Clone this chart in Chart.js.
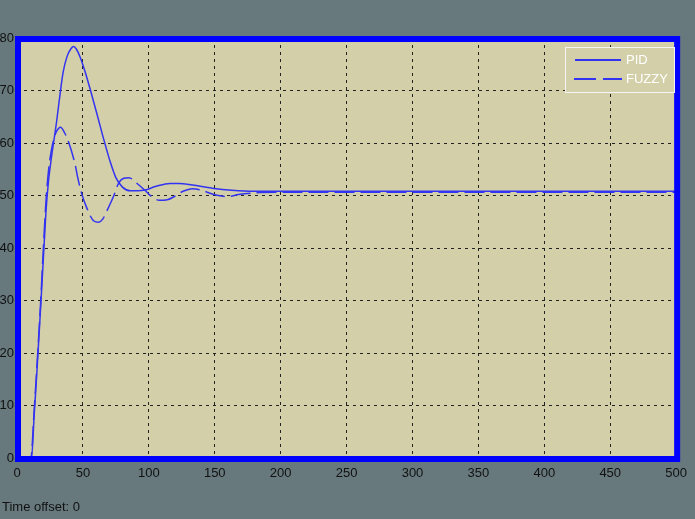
<!DOCTYPE html>
<html>
<head>
<meta charset="utf-8">
<script src="https://cdn.jsdelivr.net/npm/chart.js@4/dist/chart.umd.min.js"></script>
<style>
  html, body { margin: 0; padding: 0; background: #67797d; }
  canvas { display: block; }
</style>
</head>
<body>
<canvas id="scope" width="695" height="519"></canvas>
<script>
// time axis ticks
const xTicks = [0, 50, 100, 150, 200, 250, 300, 350, 400, 450, 500];
const yTicks = [0, 10, 20, 30, 40, 50, 60, 70, 80];

// PID response
const pidTime = [0, 11, 13, 15, 18, 20, 22, 24, 26, 28, 30, 32, 35, 38, 41, 43, 45, 48, 52, 56, 61, 66, 71, 75, 80, 86, 96, 105, 116, 123, 133, 148, 163, 180, 500];
const pidValue = [0, 0, 8, 16, 29, 38, 47, 53, 57, 60.5, 64, 68, 73.5, 76.5, 78, 78.4, 77.9, 76.3, 73.3, 69.8, 65.2, 60.5, 56.2, 53.4, 51.6, 50.9, 51, 51.7, 52.3, 52.3, 52, 51.4, 51, 50.8, 50.8];

// FUZZY response
const fuzzyTime = [0, 10.5, 13, 15, 18, 20, 22, 24, 26, 28, 30, 33, 36, 39, 44, 46, 49, 53, 58, 62, 65, 69, 73, 77, 81, 85, 90, 97, 102, 108, 114, 120, 126, 133, 140, 148, 155, 160, 168, 180, 200, 500];
const fuzzyValue = [0, 0, 9, 17, 30, 40, 49, 55, 58.5, 60.8, 62.2, 63, 62, 60.3, 56, 53.5, 50.4, 47.6, 45.2, 44.9, 45.5, 47.5, 49.7, 52.3, 53.3, 53.4, 52.5, 51, 49.8, 49.1, 49.2, 49.9, 50.8, 51.3, 51, 50.3, 49.9, 49.8, 50.2, 50.5, 50.6, 50.6];

const seriesNames = ["PID", "FUZZY"];

const toPoints = (ts, vs) => ts.map((t, i) => ({ x: t, y: vs[i] }));

const lineColor = "#3333f2";
const plotBg = "#d3cfa8";

const scopePlugin = {
    id: "scope",
    beforeDraw(chart) {
        const a = chart.chartArea;
        const ctx = chart.ctx;
        ctx.save();
        ctx.fillStyle = plotBg;
        ctx.fillRect(a.left, a.top, a.right - a.left, a.bottom - a.top);
        ctx.restore();
    },
    afterDraw(chart) {
        const a = chart.chartArea;
        const ctx = chart.ctx;
        ctx.save();
        // thick blue frame
        ctx.strokeStyle = "#0000ff";
        ctx.lineWidth = 6;
        ctx.strokeRect(a.left + 1, a.top + 1, a.right - a.left, a.bottom - a.top);

        // legend box
        const lx = 565.5, ly = 47.5, lw = 109, lh = 45;
        ctx.fillStyle = plotBg;
        ctx.fillRect(lx, ly, lw, lh);
        ctx.strokeStyle = "#f4f4f4";
        ctx.lineWidth = 1;
        ctx.strokeRect(lx, ly, lw, lh);

        ctx.strokeStyle = lineColor;
        ctx.lineWidth = 2;
        ctx.beginPath();
        ctx.moveTo(575, 60);
        ctx.lineTo(621, 60);
        ctx.stroke();
        ctx.setLineDash([22, 7]);
        ctx.beginPath();
        ctx.moveTo(574, 79);
        ctx.lineTo(622, 79);
        ctx.stroke();
        ctx.setLineDash([]);

        ctx.fillStyle = "#ffffff";
        ctx.font = "13px 'Liberation Sans', Arial, sans-serif";
        ctx.textBaseline = "middle";
        ctx.textAlign = "left";
        ctx.fillText(seriesNames[0], 626, 60);
        ctx.fillText(seriesNames[1], 626, 79);

        // time offset note
        ctx.fillStyle = "#111111";
        ctx.fillText("Time offset: 0", 2, 507);
        ctx.restore();
    }
};

new Chart(document.getElementById("scope"), {
    type: "line",
    data: {
        datasets: [
            {
                label: seriesNames[0],
                data: toPoints(pidTime, pidValue),
                borderColor: lineColor,
                borderWidth: 1.5,
                pointRadius: 0,
                cubicInterpolationMode: "monotone",
            },
            {
                label: seriesNames[1],
                data: toPoints(fuzzyTime, fuzzyValue),
                borderColor: lineColor,
                borderWidth: 1.5,
                borderDash: [20, 6],
                pointRadius: 0,
                cubicInterpolationMode: "monotone",
            },
        ],
    },
    options: {
        responsive: false,
        animation: false,
        devicePixelRatio: 1,
        layout: { padding: { top: 38, right: 16, left: 0, bottom: 0 } },
        plugins: {
            legend: { display: false },
            tooltip: { enabled: false },
        },
        scales: {
            x: {
                type: "linear",
                min: xTicks[0],
                max: xTicks[xTicks.length - 1],
                afterBuildTicks: (s) => { s.ticks = xTicks.map(v => ({ value: v })); },
                afterFit: (s) => { s.height = 61; },
                grid: { color: "#222222", drawTicks: false, lineWidth: 1 },
                border: { display: false, dash: [3, 4] },
                ticks: {
                    color: "#111111",
                    padding: 8,
                    maxRotation: 0,
                    font: { family: "'Liberation Sans', Arial, sans-serif", size: 13 },
                },
            },
            y: {
                type: "linear",
                min: yTicks[0],
                max: yTicks[yTicks.length - 1],
                afterBuildTicks: (s) => { s.ticks = yTicks.map(v => ({ value: v })); },
                afterFit: (s) => { s.width = 17; },
                grid: { color: "#222222", drawTicks: false, lineWidth: 1 },
                border: { display: false, dash: [3, 4] },
                ticks: {
                    color: "#111111",
                    padding: 3,
                    font: { family: "'Liberation Sans', Arial, sans-serif", size: 13 },
                },
            },
        },
    },
    plugins: [scopePlugin],
});
</script>
</body>
</html>
